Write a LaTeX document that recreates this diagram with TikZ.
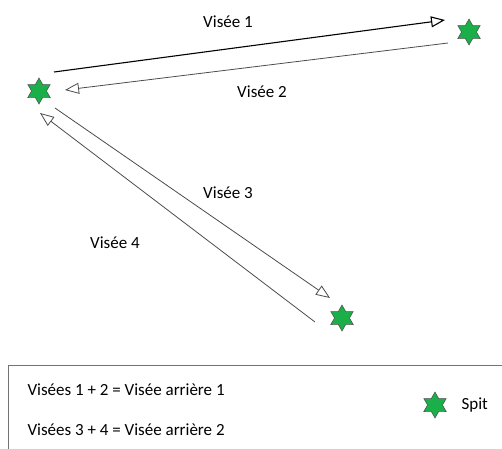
\documentclass[tikz,border=0pt]{standalone}
\usepackage{fontspec}
\setmainfont{Carlito}
\usetikzlibrary{shapes.geometric,arrows.meta}
\definecolor{spitgreen}{HTML}{1AAF48}
\tikzset{
  spit/.style={star, star points=6, star point ratio=1.75, minimum size=26pt, inner sep=0pt,
    fill=spitgreen, draw=black!70, line width=0.5pt},
  visee/.style={draw=black!70, line width=0.8pt, -{Triangle[open, length=14pt, width=11pt]}},
  lbl/.style={font=\fontsize{17}{20}\selectfont, text=black}
}
\begin{document}
\begin{tikzpicture}[x=1pt,y=-1pt]
  \useasboundingbox (0,0) rectangle (502,448);
  \clip (0,0) rectangle (502,448);
  % spits
  \node[spit] (spitA) at (39,91) {};
  \node[spit] (spitB) at (469,32) {};
  \node[spit] (spitC) at (342,318) {};
  % line ends
  \coordinate (v1a) at (54,72);  \coordinate (v1b) at (445,20);
  \coordinate (v2a) at (448,43); \coordinate (v2b) at (65,90);
  \coordinate (v3a) at (55,108); \coordinate (v3b) at (330,298);
  \coordinate (v4a) at (315,322); \coordinate (v4b) at (40,113);
  \draw[visee, draw=black, line width=1.1pt] (v1a) -- (v1b);
  \draw[visee] (v2a) -- (v2b);
  \draw[visee] (v3a) -- (v3b);
  \draw[visee] (v4a) -- (v4b);
  \node[lbl] (l1) at (228,22) {Visée 1};
  \node[lbl] (l2) at (262,92) {Visée 2};
  \node[lbl] (l3) at (228,193) {Visée 3};
  \node[lbl] (l4) at (115,243) {Visée 4};
  % legend
  \draw[black!55, line width=1pt] (8,365) rectangle (530,480);
  \node[lbl, anchor=west] (leg1) at (24,390) {Visées 1 + 2 = Visée arrière 1};
  \node[lbl, anchor=west] (leg2) at (24,430) {Visées 3 + 4 = Visée arrière 2};
  \node[spit] (spitL) at (435,405) {};
  \node[lbl, anchor=west] (legS) at (458,405) {Spit};
\end{tikzpicture}
\end{document}
